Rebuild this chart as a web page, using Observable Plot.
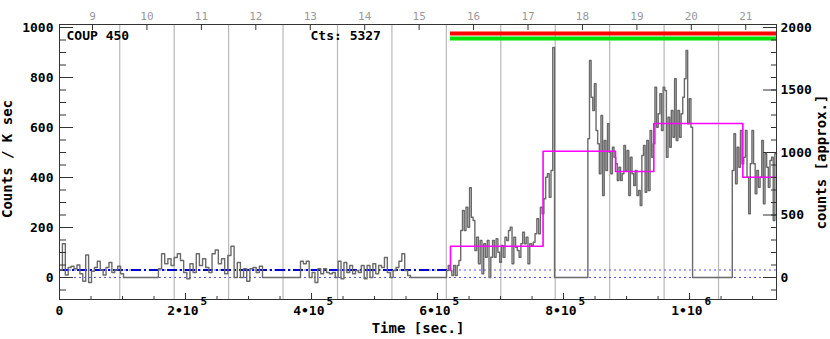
<!DOCTYPE html>
<html>
<head>
<meta charset="utf-8">
<script src="https://cdn.jsdelivr.net/npm/d3@7"></script>
<script src="https://cdn.jsdelivr.net/npm/@observablehq/plot@0.6"></script>
<style>
  html, body { margin: 0; padding: 0; background: #fff; }
  #chart { width: 830px; height: 339px; }
</style>
</head>
<body>
<div id="chart"></div>
<script>
// ---- data ----
const sourceName = "COUP 450";
const totalCounts = "Cts: 5327";

// observation segments (seconds)
const segStart = [0, 157000, 382500, 614300, 838600, 1067800];
const segEnd   = [101600, 322200, 557100, 785700, 1004800, 1138000];

// binned count rates (counts / ks) per segment
const seg1 = [30, 135, 10, 40, 45, 35, 50, 15, -15, 90, -20, 25, 40, 65, 30, 10, 40, 60, 20, 30, 45, 15];
const seg2 = [35, 95, 55, 75, 48, 80, 95, 68, 20, -5, 55, 20, 95, 48, 75, 40, 20, 95, 110, 55, 75, 15, 88, 125, 0, 60, 0, 35, -15, 35, 40, 20, 45];
const seg3 = [65, 55, 65, 0, 20, -20, 35, 15, 35, 20, 15, 20, 0, 65, -5, 60, 20, 48, 15, 28, 20, 48, -5, 48, 0, 55, 15, 48, 40, 80, 20, 0, 28, 40, 65, 95, 28, 8];
const seg4 = [28, 48, 28, 8, 48, 8, 48, 68, 188, 268, 188, 281, 201, 359, 241, 228, 108, 161, 55, 148, 15, 135, 81, 148, 0, 81, 148, 81, 155, 101, 61, 128, 81, 161, 148, 188, 201, 55, 161, 121, 108, 81, 135, 181, 135, 161, 55, 135, 128, 141, 175, 235, 175, 281, 255, 315, 401, 415, 321, 428, 920];
const seg5 = [555, 868, 721, 668, 775, 588, 535, 415, 648, 328, 548, 428, 615, 501, 415, 521, 481, 455, 388, 441, 388, 415, 528, 428, 508, 328, 481, 415, 368, 428, 328, 348, 288, 488, 528, 341, 548, 348, 588, 481, 535, 761, 601, 655, 735, 588, 761, 748, 481, 641, 521, 668, 561, 795, 548, 668, 561, 655, 721, 795, 908, 615, 715, 601];
const seg6 = [428, 575, 375, 521, 441, 588, 455, 481, 588, 401, 255, 455, 588, 455, 335, 428, 361, 401, 548, 295, 495, 441, 361, 468, 481, 228, 495];
const segRates = [seg1, seg2, seg3, seg4, seg5, seg6];

// characteristic quiescent level and Bayesian-block flare levels
const quiescentLevel = 30;
const blockEdges  = [620600, 767500, 882500, 943300, 1084600, 1138000];
const blockLevels = [125, 505, 424, 616, 401];

// flare indicator bars (red, green)
const barColors = ["#ff0000", "#00e000"];
const barLevels = [976, 956];

// axes
const xDomain = [0, 1138000];
const yDomain = [-88, 1012];
const yMajor = [0, 200, 400, 600, 800, 1000];
const yMinor = d3.range(-50, 1001, 50);
const countsMajor = [0, 500, 1000, 1500, 2000];   // right axis, counts
const countsMinor = d3.range(-100, 2001, 100);
const countsPerRate = 2;                          // counts [approx.] per counts/ks
const xMajor = [0, 2e5, 4e5, 6e5, 8e5, 1e6];
const xMinor = d3.range(0, 1138000, 5e4);
const xMant = ["0", "2•10", "4•10", "6•10", "8•10", "1•10"];
const xExp  = ["", "5", "5", "5", "5", "6"];
const dayTicks = [9, 10, 11, 12, 13, 14, 15, 16, 17, 18, 19, 20, 21];
const daySeconds = 86400;
const day9Time = 52400; // time (s) of the "9" label on the top axis

// ---- build tables ----
const curve = [];
segRates.forEach((vals, i) => {
  const w = (segEnd[i] - segStart[i]) / vals.length;
  vals.forEach((v, j) => curve.push({t: segStart[i] + j * w, v}));
  curve.push({t: segEnd[i], v: i === segRates.length - 1 ? vals[vals.length - 1] : 0});
});
const blocks = [{t: blockEdges[0], v: quiescentLevel}];
blockLevels.forEach((v, i) => blocks.push({t: blockEdges[i], v}));
blocks.push({t: blockEdges[blockEdges.length - 1], v: blockLevels[blockLevels.length - 1]});

const dayTime = d => day9Time + (d - 9) * daySeconds;
const dayBoundaries = dayTicks.slice(0, -1).map(d => dayTime(d + 0.5));
const xLabels = xMajor.map((x, i) => ({x, mant: xMant[i], exp: xExp[i]}));
const bars = barLevels.map((y, i) => ({y, color: barColors[i]}));

const font = "DejaVu Sans Mono";
const axisColor = "#333";

const chart = Plot.plot({
  width: 830,
  height: 339,
  marginLeft: 59,
  marginRight: 54,
  marginTop: 24,
  marginBottom: 40,
  style: {fontFamily: font, fontSize: "13px", fontWeight: "bold", background: "#fff", color: "#000"},
  x: {domain: xDomain, axis: null},
  y: {domain: yDomain, axis: null},
  marks: [
    // day-boundary grid lines
    Plot.ruleX(dayBoundaries, {stroke: "#b8b8b8", strokeWidth: 1.2}),
    // reference levels
    Plot.ruleY([0, quiescentLevel], {stroke: "#5555ff", strokeWidth: 1, strokeDasharray: "2,3"}),
    Plot.ruleY([quiescentLevel], {x1: 0, x2: blockEdges[0], stroke: "#0000cc", strokeWidth: 1.8, strokeDasharray: "10,3,2,3"}),
    // light curve
    Plot.line(curve, {x: "t", y: "v", curve: "step-after", stroke: "#6a6a6a", strokeWidth: 1.4}),
    // Bayesian blocks
    Plot.line(blocks, {x: "t", y: "v", curve: "step-after", stroke: "#ff00ff", strokeWidth: 1.6}),
    // flare bars
    Plot.ruleY(bars, {y: "y", x1: blockEdges[0], x2: xDomain[1], stroke: "color", strokeWidth: 4}),
    Plot.frame({stroke: axisColor}),
    // left axis
    Plot.axisY(yMajor, {anchor: "left", tickSize: -14, tickPadding: 20, tickFormat: d => String(d), stroke: axisColor, label: null, fontSize: 13}),
    Plot.axisY(yMinor, {anchor: "left", tickSize: -7, tickFormat: () => "", stroke: axisColor, label: null}),
    // right axis (approximate counts)
    Plot.axisY(countsMajor.map(c => c / countsPerRate), {anchor: "right", tickSize: -14, tickPadding: 18, tickFormat: d => String(d * countsPerRate), stroke: axisColor, label: null}),
    Plot.axisY(countsMinor.map(c => c / countsPerRate), {anchor: "right", tickSize: -6, tickFormat: () => "", stroke: axisColor, label: null}),
    // bottom axis
    Plot.axisX(xMajor, {anchor: "bottom", tickSize: -6, tickFormat: () => "", stroke: axisColor, label: null}),
    Plot.axisX(xMinor, {anchor: "bottom", tickSize: -3, tickFormat: () => "", stroke: axisColor, label: null}),
    Plot.text(xLabels.filter(d => d.exp === ""), {x: "x", text: "mant", frameAnchor: "bottom", lineAnchor: "bottom", dy: 15, textAnchor: "middle", fontSize: 13}),
    Plot.text(xLabels.filter(d => d.exp !== ""), {x: "x", text: "mant", frameAnchor: "bottom", lineAnchor: "bottom", dy: 15, dx: 13, textAnchor: "end", fontSize: 13}),
    Plot.text(xLabels.filter(d => d.exp !== ""), {x: "x", text: "exp", frameAnchor: "bottom", lineAnchor: "bottom", dy: 5, dx: 15, textAnchor: "start", fontSize: 11}),
    // top axis (day number)
    Plot.axisX(dayTicks.map(dayTime), {anchor: "top", tickSize: -5, tickFormat: () => "", stroke: axisColor, label: null}),
    Plot.axisX(dayTicks.map(dayTime), {anchor: "top", tickSize: 0, tickPadding: 5, tickFormat: t => String(Math.round((t - day9Time) / daySeconds + 9)), fill: "#999", fontWeight: "normal", fontSize: 11, label: null}),
    // axis titles
    Plot.text(["Time [sec.]"], {frameAnchor: "bottom", textAnchor: "middle", lineAnchor: "bottom", dy: 33, fontSize: 14}),
    Plot.text(["Counts / K sec"], {frameAnchor: "left", rotate: -90, textAnchor: "middle", lineAnchor: "middle", dx: -52, dy: -3, fontSize: 14}),
    Plot.text(["counts [approx.]"], {frameAnchor: "right", rotate: -90, textAnchor: "middle", lineAnchor: "middle", dx: 45, dy: 0, fontSize: 14}),
    // annotations
    Plot.text([sourceName], {frameAnchor: "top-left", textAnchor: "start", lineAnchor: "top", dx: 7, dy: 6, fontSize: 13}),
    Plot.text([totalCounts], {frameAnchor: "top-left", textAnchor: "start", lineAnchor: "top", dx: 251, dy: 6, fontSize: 13})
  ]
});
document.getElementById("chart").appendChild(chart);
</script>
</body>
</html>
